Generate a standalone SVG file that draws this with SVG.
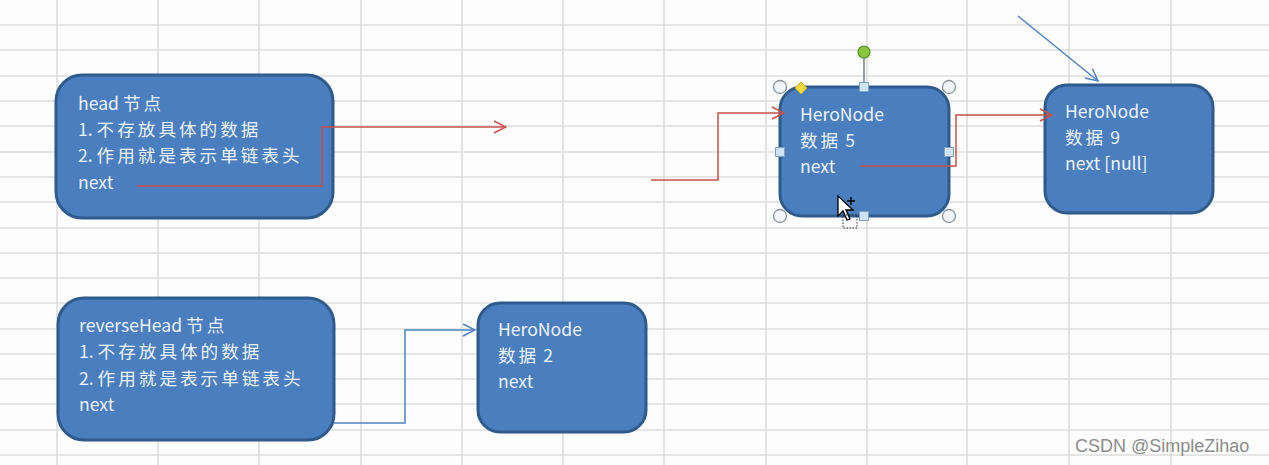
<svg xmlns="http://www.w3.org/2000/svg" width="1269" height="465" viewBox="0 0 1269 465">
<defs>
<style>
.grid line{stroke:#dcdcdc;stroke-width:1.6}
.node rect{fill:#4a7ebe;stroke:#2f5b8c;stroke-width:3}
.t{font-family:"Noto Sans CJK SC","Noto Sans",sans-serif;font-size:17.6px;fill:#eef3fa}
.c{letter-spacing:3px}
.red{fill:none;stroke:#c8504a;stroke-width:1.5}
.blue{fill:none;stroke:#4f81bd;stroke-width:1.5}
.hc{fill:#f2f5f8;stroke:#8a949e;stroke-width:1.3}
.hs{fill:#cfe3f5;stroke:#7f9fbf;stroke-width:1}
</style>
<marker id="ar" viewBox="0 0 14 14" refX="13" refY="7" markerWidth="14" markerHeight="14" markerUnits="userSpaceOnUse" orient="auto">
<path d="M1,1 L13,7 L1,13" fill="none" stroke="#c8504a" stroke-width="1.5"/>
</marker>
<marker id="ab" viewBox="0 0 14 14" refX="13" refY="7" markerWidth="14" markerHeight="14" markerUnits="userSpaceOnUse" orient="auto">
<path d="M1,1 L13,7 L1,13" fill="none" stroke="#4f81bd" stroke-width="1.5"/>
</marker>
</defs>
<rect width="1269" height="465" fill="#fdfdfd"/>
<g class="grid">
<line x1="57" y1="0" x2="57" y2="465"/>
<line x1="158" y1="0" x2="158" y2="465"/>
<line x1="259" y1="0" x2="259" y2="465"/>
<line x1="361" y1="0" x2="361" y2="465"/>
<line x1="462" y1="0" x2="462" y2="465"/>
<line x1="563" y1="0" x2="563" y2="465"/>
<line x1="664" y1="0" x2="664" y2="465"/>
<line x1="766" y1="0" x2="766" y2="465"/>
<line x1="867" y1="0" x2="867" y2="465"/>
<line x1="967" y1="0" x2="967" y2="465"/>
<line x1="1069" y1="0" x2="1069" y2="465"/>
<line x1="1171" y1="0" x2="1171" y2="465"/>
<line x1="0" y1="25" x2="1269" y2="25"/>
<line x1="0" y1="50" x2="1269" y2="50"/>
<line x1="0" y1="76" x2="1269" y2="76"/>
<line x1="0" y1="101" x2="1269" y2="101"/>
<line x1="0" y1="126" x2="1269" y2="126"/>
<line x1="0" y1="152" x2="1269" y2="152"/>
<line x1="0" y1="177" x2="1269" y2="177"/>
<line x1="0" y1="202" x2="1269" y2="202"/>
<line x1="0" y1="228" x2="1269" y2="228"/>
<line x1="0" y1="253" x2="1269" y2="253"/>
<line x1="0" y1="278" x2="1269" y2="278"/>
<line x1="0" y1="303" x2="1269" y2="303"/>
<line x1="0" y1="329" x2="1269" y2="329"/>
<line x1="0" y1="354" x2="1269" y2="354"/>
<line x1="0" y1="379" x2="1269" y2="379"/>
<line x1="0" y1="404" x2="1269" y2="404"/>
<line x1="0" y1="430" x2="1269" y2="430"/>
<line x1="0" y1="455" x2="1269" y2="455"/>
</g>
<g id="head" class="node">
<rect x="56" y="75" width="277" height="143" rx="26"/>
<text class="t" x="78" y="110">head <tspan class="c">节点</tspan></text>
<text class="t" x="78" y="136">1. <tspan class="c">不存放具体的数据</tspan></text>
<text class="t" x="78" y="162">2. <tspan class="c">作用就是表示单链表头</tspan></text>
<text class="t" x="78" y="189">next</text>
</g>
<g id="reverseHead" class="node">
<rect x="58" y="298" width="276" height="142" rx="26"/>
<text class="t" x="79" y="332">reverseHead <tspan class="c">节点</tspan></text>
<text class="t" x="79" y="358">1. <tspan class="c">不存放具体的数据</tspan></text>
<text class="t" x="79" y="385">2. <tspan class="c">作用就是表示单链表头</tspan></text>
<text class="t" x="79" y="411">next</text>
</g>
<g id="node2" class="node">
<rect x="478" y="303" width="168" height="129" rx="22"/>
<text class="t" x="498" y="336">HeroNode</text>
<text class="t" x="498" y="362"><tspan class="c">数据</tspan> 2</text>
<text class="t" x="498" y="388">next</text>
</g>
<g id="node5" class="node">
<rect x="780" y="87" width="169" height="129" rx="22"/>
<text class="t" x="800" y="121">HeroNode</text>
<text class="t" x="800" y="147"><tspan class="c">数据</tspan> 5</text>
<text class="t" x="800" y="173">next</text>
</g>
<g id="node9" class="node">
<rect x="1045" y="85" width="168" height="128" rx="22"/>
<text class="t" x="1065" y="118">HeroNode</text>
<text class="t" x="1065" y="144"><tspan class="c">数据</tspan> 9</text>
<text class="t" x="1065" y="170">next [null]</text>
</g>
<g id="connectors">
<path class="red" d="M137,186 H322 V127 H506" marker-end="url(#ar)"/>
<path class="red" d="M651,180 H718 V113 H784" marker-end="url(#ar)"/>
<path class="red" d="M860,166 H956 V115 H1052" marker-end="url(#ar)"/>
<path class="blue" d="M334,423 H405 V330 H475" marker-end="url(#ab)"/>
<path class="blue" d="M1018,16 L1098,81" marker-end="url(#ab)"/>
</g>
<g id="selection">
<line x1="864" y1="58" x2="864" y2="84" stroke="#6d7f8f" stroke-width="1.5"/>
<circle cx="864" cy="52" r="6" fill="#8cc63f" stroke="#5a8a2a" stroke-width="1.2"/>
<circle class="hc" cx="780" cy="87" r="6.5"/>
<circle class="hc" cx="949" cy="87" r="6.5"/>
<circle class="hc" cx="780" cy="216" r="6.5"/>
<circle class="hc" cx="949" cy="216" r="6.5"/>
<rect class="hs" x="859.5" y="82.5" width="9" height="9"/>
<rect class="hs" x="859.5" y="211.5" width="9" height="9"/>
<rect class="hs" x="775.5" y="147.5" width="9" height="9"/>
<rect class="hs" x="944.5" y="147.5" width="9" height="9"/>
<path d="M801,82 L807,88 L801,94 L795,88 Z" fill="#f6d83a" stroke="#c9a820" stroke-width="1"/>
<path d="M838,196 L838,216 L843,211 L847,220 L850,219 L846,210 L853,210 Z" fill="#ffffff" stroke="#000000" stroke-width="1.3"/>
<path d="M847,201 H855 M851,197 V205" stroke="#000" stroke-width="1.4"/>
<rect x="843" y="215" width="14" height="13" fill="none" stroke="#333" stroke-width="1" stroke-dasharray="1.5,1.5"/>
</g>
<text x="1075" y="452" font-family="Liberation Sans, Arial, sans-serif" font-size="18" fill="#8c8c8c">CSDN @SimpleZihao</text>
</svg>
